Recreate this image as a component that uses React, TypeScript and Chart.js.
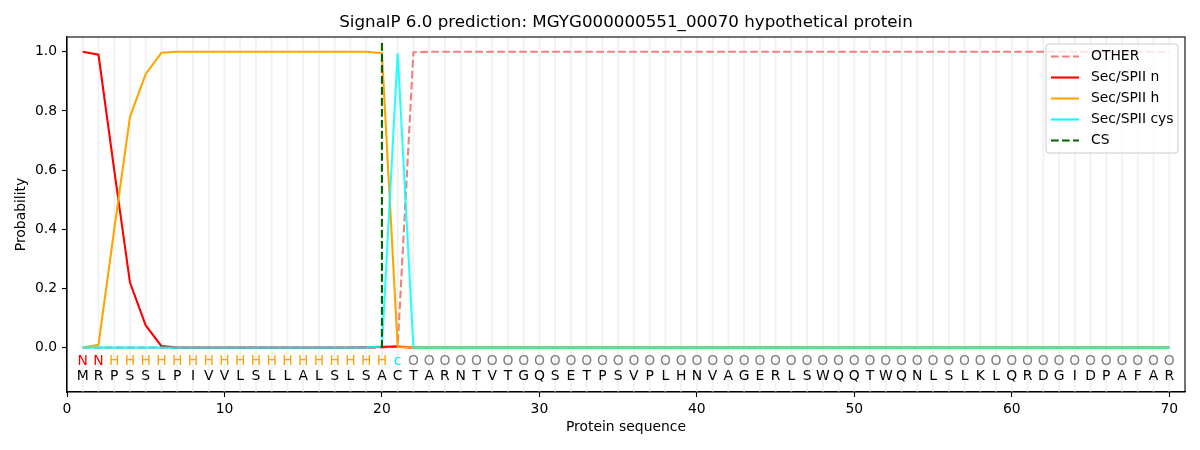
import { useEffect, useRef } from 'react';
import Chart from 'chart.js/auto';

// residues of MGYG000000551_00070 and the per-residue SignalP region label
const residues = 'MRPSSLPIVVLSLLALSLSACTARNTVTGQSETPSVPLHNVAGERLSWQQTWQNLSLKLQRDGIDPAFAR'.split('');
const regionLabels = 'NNHHHHHHHHHHHHHHHHHHcOOOOOOOOOOOOOOOOOOOOOOOOOOOOOOOOOOOOOOOOOOOOOOOOO'.split('');
const positions = residues.map((_, i) => i + 1);

const otherProb = [
  0, 0, 0, 0, 0, 0, 0, 0, 0, 0,
  0, 0, 0, 0, 0, 0, 0, 0, 0, 0,
  0.005, 0.998, 1, 1, 1, 1, 1, 1, 1, 1,
  1, 1, 1, 1, 1, 1, 1, 1, 1, 1,
  1, 1, 1, 1, 1, 1, 1, 1, 1, 1,
  1, 1, 1, 1, 1, 1, 1, 1, 1, 1,
  1, 1, 1, 1, 1, 1, 1, 1, 1, 1,
];
const nProb = [
  1.0, 0.99, 0.6, 0.22, 0.075, 0.005, 0, 0, 0, 0,
  0, 0, 0, 0, 0, 0, 0, 0, 0.001, 0.003,
  0.004, 0, 0, 0, 0, 0, 0, 0, 0, 0,
  0, 0, 0, 0, 0, 0, 0, 0, 0, 0,
  0, 0, 0, 0, 0, 0, 0, 0, 0, 0,
  0, 0, 0, 0, 0, 0, 0, 0, 0, 0,
  0, 0, 0, 0, 0, 0, 0, 0, 0, 0,
];
const hProb = [
  0, 0.01, 0.4, 0.78, 0.925, 0.997, 1, 1, 1, 1,
  1, 1, 1, 1, 1, 1, 1, 1, 1, 0.995,
  0.002, 0, 0, 0, 0, 0, 0, 0, 0, 0,
  0, 0, 0, 0, 0, 0, 0, 0, 0, 0,
  0, 0, 0, 0, 0, 0, 0, 0, 0, 0,
  0, 0, 0, 0, 0, 0, 0, 0, 0, 0,
  0, 0, 0, 0, 0, 0, 0, 0, 0, 0,
];
const cysProb = [
  0, 0, 0, 0, 0, 0, 0, 0, 0, 0,
  0, 0, 0, 0, 0, 0, 0, 0, 0.001, 0.004,
  0.995, 0, 0, 0, 0, 0, 0, 0, 0, 0,
  0, 0, 0, 0, 0, 0, 0, 0, 0, 0,
  0, 0, 0, 0, 0, 0, 0, 0, 0, 0,
  0, 0, 0, 0, 0, 0, 0, 0, 0, 0,
  0, 0, 0, 0, 0, 0, 0, 0, 0, 0,
];
const csPosition = 20;
const csTop = 1.035;

const xTicks = [0, 10, 20, 30, 40, 50, 60, 70];
const yTicks = [0, 0.2, 0.4, 0.6, 0.8, 1.0];

const FONT = "'DejaVu Sans', sans-serif";
const labelColors: Record<string, string> = { N: '#ff0000', H: '#ffa500', c: '#00e5ee', O: '#808080' };

const legendItems = [
  { label: 'OTHER', color: '#f08080', dash: [7.7, 3.3] },
  { label: 'Sec/SPII n', color: '#ff0000', dash: [] },
  { label: 'Sec/SPII h', color: '#ffa500', dash: [] },
  { label: 'Sec/SPII cys', color: '#00ffff', dash: [] },
  { label: 'CS', color: '#006400', dash: [7.7, 3.3] },
];

const overlay = {
  id: 'overlay',
  beforeDatasetsDraw(chart: any) {
    const { ctx, chartArea: a, scales } = chart;
    ctx.save();
    ctx.strokeStyle = '#f1f1f1';
    ctx.lineWidth = 1.8;
    positions.forEach((p) => {
      const px = scales.x.getPixelForValue(p);
      ctx.beginPath();
      ctx.moveTo(px, a.top);
      ctx.lineTo(px, a.bottom);
      ctx.stroke();
    });
    ctx.restore();
  },
  afterDraw(chart: any) {
    const { ctx, chartArea: a, scales } = chart;
    ctx.save();

    // spines
    ctx.strokeStyle = '#000';
    ctx.lineWidth = 1.1;
    ctx.strokeRect(a.left, a.top, a.right - a.left, a.bottom - a.top);

    // residue letters and region labels
    ctx.textAlign = 'center';
    ctx.textBaseline = 'middle';
    ctx.font = `13.9px ${FONT}`;
    positions.forEach((p, i) => {
      const px = scales.x.getPixelForValue(p);
      ctx.fillStyle = labelColors[regionLabels[i]];
      ctx.fillText(regionLabels[i], px, scales.y.getPixelForValue(-0.047));
      ctx.fillStyle = '#000';
      ctx.fillText(residues[i], px, scales.y.getPixelForValue(-0.098));
    });

    // titles
    const cx = (a.left + a.right) / 2;
    ctx.fillStyle = '#000';
    ctx.font = `16.7px ${FONT}`;
    ctx.fillText('SignalP 6.0 prediction: MGYG000000551_00070 hypothetical protein', cx, 23);
    ctx.font = `13.9px ${FONT}`;
    ctx.fillText('Protein sequence', cx, 427);
    ctx.save();
    ctx.translate(21, (a.top + a.bottom) / 2);
    ctx.rotate(-Math.PI / 2);
    ctx.fillText('Probability', 0, 0);
    ctx.restore();

    // legend
    const bx = a.right - 139;
    const by = a.top + 7;
    const bw = 132;
    const bh = 109;
    ctx.beginPath();
    ctx.roundRect(bx, by, bw, bh, 3);
    ctx.fillStyle = 'rgba(255,255,255,0.8)';
    ctx.fill();
    ctx.strokeStyle = '#cccccc';
    ctx.lineWidth = 1;
    ctx.stroke();
    ctx.textAlign = 'left';
    legendItems.forEach((item, i) => {
      const ry = by + 12.5 + i * 21;
      ctx.strokeStyle = item.color;
      ctx.lineWidth = 2.1;
      ctx.setLineDash(item.dash);
      ctx.beginPath();
      ctx.moveTo(bx + 5, ry);
      ctx.lineTo(bx + 33, ry);
      ctx.stroke();
      ctx.setLineDash([]);
      ctx.fillStyle = '#000';
      ctx.fillText(item.label, bx + 45, ry);
    });
    ctx.restore();
  },
};

export default function App() {
  const canvasRef = useRef<HTMLCanvasElement>(null);

  useEffect(() => {
    if (!canvasRef.current) return;
    const toPoints = (vals: number[]) => vals.map((v, i) => ({ x: positions[i], y: v }));
    const line = { pointRadius: 0, borderWidth: 2.1, fill: false, tension: 0 };

    const chart = new Chart(canvasRef.current, {
      type: 'line',
      data: {
        datasets: [
          { ...line, label: 'OTHER', data: toPoints(otherProb), borderColor: '#f08080', borderDash: [7.7, 3.3], order: 5 },
          { ...line, label: 'Sec/SPII n', data: toPoints(nProb), borderColor: '#ff0000', order: 4 },
          { ...line, label: 'Sec/SPII h', data: toPoints(hProb), borderColor: '#ffa500', order: 3 },
          { ...line, label: 'Sec/SPII cys', data: toPoints(cysProb), borderColor: 'rgba(0,255,255,0.85)', order: 2 },
          {
            ...line,
            label: 'CS',
            data: [{ x: csPosition, y: 0 }, { x: csPosition, y: csTop }],
            borderColor: '#006400',
            borderDash: [7.7, 3.3],
            order: 1,
          },
        ],
      },
      options: {
        responsive: false,
        animation: false,
        layout: { padding: { left: 0, top: 37, right: 15, bottom: 0 } },
        plugins: { legend: { display: false }, title: { display: false }, tooltip: { enabled: false } },
        scales: {
          x: {
            type: 'linear',
            min: 0,
            max: 71,
            afterBuildTicks: (s: any) => { s.ticks = xTicks.map((v) => ({ value: v })); },
            afterFit: (s: any) => { s.height = 58; },
            grid: { drawOnChartArea: false, drawTicks: true, tickLength: 5, tickColor: '#000', tickWidth: 1.1 },
            border: { display: true, color: '#000', width: 1.1 },
            ticks: { color: '#000', font: { family: FONT, size: 13.9 }, padding: 4, maxRotation: 0 },
          },
          y: {
            type: 'linear',
            min: -0.15,
            max: 1.05,
            afterBuildTicks: (s: any) => { s.ticks = yTicks.map((v) => ({ value: v })); },
            afterFit: (s: any) => { s.width = 67; },
            grid: { drawOnChartArea: false, drawTicks: true, tickLength: 5, tickColor: '#000', tickWidth: 1.1 },
            border: { display: true, color: '#000', width: 1.1 },
            ticks: {
              color: '#000',
              font: { family: FONT, size: 13.9 },
              padding: 5,
              callback: (v: any) => Number(v).toFixed(1),
            },
          },
        },
      },
      plugins: [overlay],
    });

    return () => chart.destroy();
  }, []);

  return (
    <div style={{ position: 'fixed', left: 0, top: 0, width: 1200, height: 450, background: '#fff' }}>
      <canvas ref={canvasRef} width={1200} height={450} />
    </div>
  );
}
